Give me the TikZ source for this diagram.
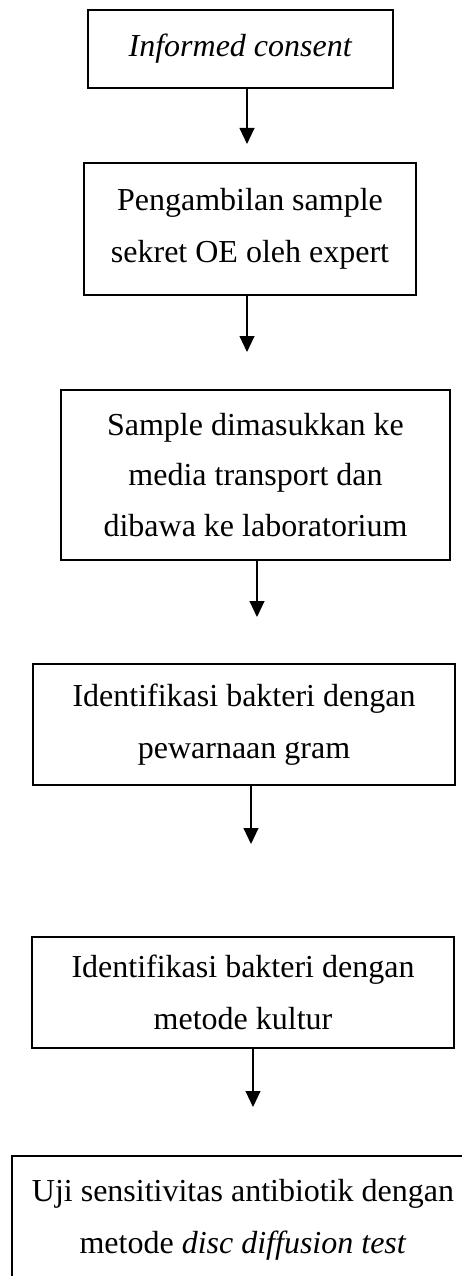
\documentclass[tikz,border=0pt]{standalone}
\usepackage{fontspec}
\setmainfont{Liberation Serif}
\usetikzlibrary{arrows, arrows.meta, shapes, positioning}

\begin{document}
\begin{tikzpicture}[x=0.375pt,y=-0.375pt,>={Triangle[length=6pt,width=5.6pt]},
 line width=0.45pt,
 box node/.style={draw,rectangle,inner sep=0pt,align=center,
 font=\fontsize{12}{19.5}\selectfont}]

  \useasboundingbox (0,0) rectangle (462,1276);

  \node[box node,minimum width=114.4pt,minimum height=29.25pt] (consent) at (240.5,49) {\textit{Informed consent}};
  \node[box node,minimum width=124.5pt,minimum height=49.5pt] (ambil) at (250,229) {Pengambilan sample\\sekret OE oleh expert};
  \node[box node,minimum width=145.9pt,minimum height=63.75pt,font=\fontsize{12}{18.8}\selectfont] (media) at (255.5,475) {Sample dimasukkan ke\\media transport dan\\dibawa ke laboratorium};
  \node[box node,minimum width=158.25pt,minimum height=45.4pt] (gram) at (244,724.5) {Identifikasi bakteri dengan\\pewarnaan gram};
  \node[box node,minimum width=158.25pt,minimum height=41.6pt] (kultur) at (243,992.5) {Identifikasi bakteri dengan\\metode kultur};
  \node[box node,minimum width=173.25pt,minimum height=48pt] (uji) at (243,1220) {Uji sensitivitas antibiotik dengan\\metode \textit{disc diffusion test}};

  % arrow tips stop short of the next box
  \coordinate (tip1) at (247,144);
  \coordinate (tip2) at (247,352);
  \coordinate (tip3) at (257,617);
  \coordinate (tip4) at (251,844);
  \coordinate (tip5) at (253,1107);

  \foreach \s/\t in {consent/tip1, ambil/tip2, media/tip3, gram/tip4, kultur/tip5} {
   \draw[->] (\s.south -| \t) -- (\t);}
\end{tikzpicture}
\end{document}
